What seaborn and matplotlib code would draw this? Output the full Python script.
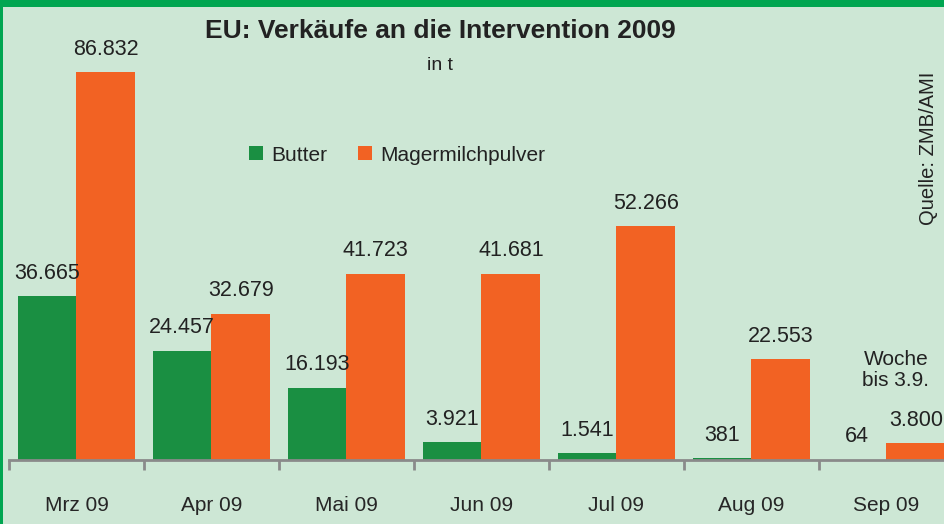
import matplotlib
matplotlib.use("Agg")
import matplotlib.pyplot as plt
import seaborn as sns
import pandas as pd
from matplotlib.patches import Rectangle

months = ["Mrz 09", "Apr 09", "Mai 09", "Jun 09", "Jul 09", "Aug 09", "Sep 09"]
butter = [36665, 24457, 16193, 3921, 1541, 381, 64]
mmp = [86832, 32679, 41723, 41681, 52266, 22553, 3800]
series = ["Butter", "Magermilchpulver"]

BG = "#cde7d5"
GREEN = "#1a8f42"
ORANGE = "#f26223"
BORDER = "#00a651"
FONT = ["Liberation Sans Narrow", "Liberation Sans", "DejaVu Sans"]

sns.set_theme(style="white")
plt.rcParams["font.family"] = FONT
plt.rcParams["text.color"] = "#222222"

df = pd.DataFrame({
    "Monat": months * 2,
    "Menge": butter + mmp,
    "Produkt": [series[0]] * len(months) + [series[1]] * len(months),
})

W, H = 945, 524
fig = plt.figure(figsize=(W / 100, H / 100), dpi=100)
fig.patch.set_facecolor(BG)

ax_left, ax_bottom, ax_top = 9, 460, 8
ax = fig.add_axes([ax_left / W, (H - ax_bottom) / H, 945 / W, (ax_bottom - ax_top) / H])
ax.set_facecolor(BG)

sns.barplot(data=df, x="Monat", y="Menge", hue="Produkt", order=months,
            hue_order=series, palette=[GREEN, ORANGE], width=0.87, gap=0,
            saturation=1, ax=ax, legend=True, edgecolor="none", linewidth=0)

px_per_unit = (460 - 72) / 86832
ax.set_ylim(0, (ax_bottom - ax_top) / px_per_unit)
ax.set_xlim(-0.5, len(months) - 0.5)

def de(v):
    return f"{v:,}".replace(",", ".")

for cont, vals in zip(ax.containers, [butter, mmp]):
    ax.bar_label(cont, labels=[de(v) for v in vals], padding=9, fontsize=15.5,
                 color="#222222")

for s in ["left", "right", "top"]:
    ax.spines[s].set_visible(False)
ax.spines["bottom"].set_color("#8a8a8a")
ax.spines["bottom"].set_linewidth(2)
ax.set_yticks([])
ax.set_ylabel("")
ax.set_xlabel("")
ax.set_xticks([i - 0.5 for i in range(len(months) + 1)])
ax.set_xticklabels([])
ax.tick_params(axis="x", which="major", length=7, width=2, color="#8a8a8a",
               direction="out", bottom=True)
ax.set_xticks(range(len(months)), minor=True)
ax.set_xticklabels(months, minor=True, fontsize=15)
ax.tick_params(axis="x", which="minor", length=0, pad=26)

handles, labels = ax.get_legend_handles_labels()
ax.get_legend().remove()
fig.legend(handles, labels, loc="center", bbox_to_anchor=(397 / W, 1 - 155 / H),
           ncol=2, frameon=False, fontsize=15, handlelength=0.65, handleheight=0.65,
           handletextpad=0.4, columnspacing=1.5)

fig.text(440 / W, 1 - 31 / H, "EU: Verkäufe an die Intervention 2009",
         ha="center", va="center", fontsize=19, fontweight="bold")
fig.text(440 / W, 1 - 66 / H, "in t", ha="center", va="center", fontsize=14)
fig.text(929 / W, 1 - 148 / H, "Quelle: ZMB/AMI", ha="center", va="center",
         rotation=90, fontsize=14.5)
fig.text(896 / W, 1 - 370 / H, "Woche\nbis 3.9.", ha="center", va="center",
         fontsize=15, linespacing=1.1)

fig.patches.append(Rectangle((0, 1 - 7 / H), 1, 7 / H, transform=fig.transFigure,
                             facecolor=BORDER, edgecolor="none", zorder=5))
fig.patches.append(Rectangle((0, 0), 3 / W, 1, transform=fig.transFigure,
                             facecolor=BORDER, edgecolor="none", zorder=5))

fig.savefig("out.png", dpi=100, facecolor=BG)
